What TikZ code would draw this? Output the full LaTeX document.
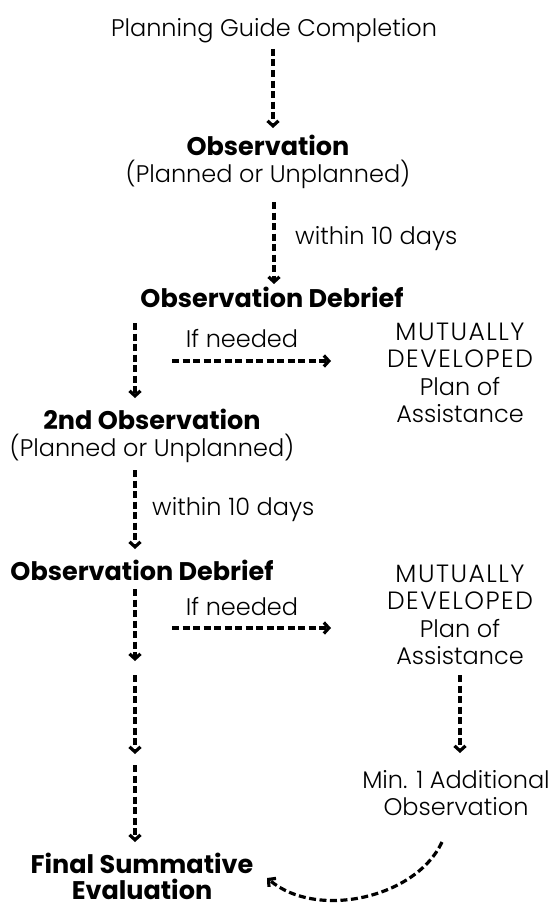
\documentclass[tikz,border=0pt]{standalone}
\usepackage{fontspec}
\setmainfont{Poppins}[UprightFont={* Light},BoldFont={* Bold}]
\usetikzlibrary{arrows.meta,calc}
\newcommand{\bd}[1]{{\fontsize{25.5}{27.5}\selectfont\bfseries #1}}
\newcommand{\cp}[1]{{\fontsize{25}{27.5}\selectfont\addfontfeatures{LetterSpace=6}#1}}
\begin{document}
\begin{tikzpicture}[x=1pt,y=-1pt,
  txt/.style={font=\fontsize{24}{27.5}\selectfont, inner sep=0pt, align=center},
  arr/.style={line width=3.2pt, dash pattern=on 7pt off 3.5pt,
    -{Straight Barb[length=5pt,width=11pt,line width=3.2pt]}}]
\useasboundingbox[fill=white] (0,0) rectangle (559,907);
\node[txt] (pgc) at (274,31) {Planning Guide Completion};
\node[txt] (obs1) at (268,162) {\bd{Observation}\\(Planned or Unplanned)};
\node[txt,anchor=west] (w1) at (295,239) {within 10 days};
\node[txt] (deb1) at (272,297) {\bd{Observation Debrief}};
\node[txt] (if1) at (242,339) {If needed};
\node[txt] (mda1) at (460,373) {\cp{MUTUALLY}\\\cp{DEVELOPED}\\Plan of\\Assistance};
\node[txt] (obs2) at (152,436) {\bd{2nd Observation}\\(Planned or Unplanned)};
\node[txt,anchor=west] (w2) at (152,510) {within 10 days};
\node[txt] (deb2) at (142,570) {\bd{Observation Debrief}};
\node[txt] (if2) at (242,607) {If needed};
\node[txt] (mda2) at (460,615) {\cp{MUTUALLY}\\\cp{DEVELOPED}\\Plan of\\Assistance};
\node[txt] (min) at (456,793) {Min. 1 Additional\\Observation};
\node[txt,font=\fontsize{25.5}{26}\selectfont] (fse) at (142,876) {\bd{Final Summative}\\\bd{Evaluation}};
% centre column
\draw[arr] ($(pgc)+(-1,18)$) -- ($(obs1 -| pgc)+(-1,-34)$);
\draw[arr] ($(obs1 -| pgc)+(0,40)$) -- ($(deb1 -| pgc)+(0,-13)$);
% left column
\draw[arr] ($(deb1 -| fse)+(-7,26)$) -- ($(obs2 -| fse)+(-7,-38)$);
\draw[arr] ($(obs2 -| fse)+(-7,34)$) -- ($(deb2 -| fse)+(-7,-21)$);
\draw[arr] ($(deb2 -| fse)+(-7,19)$) -- ($(deb2 -| fse)+(-7,91)$);
\draw[arr] ($(deb2 -| fse)+(-7,105)$) -- ($(deb2 -| fse)+(-7,184)$);
\draw[arr] ($(fse)+(-7,-111)$) -- ($(fse)+(-7,-34)$);
% horizontal arrows
\draw[arr] ($(if1)+(-70,22)$) -- ($(if1)+(89,22)$);
\draw[arr] ($(if2)+(-70,21)$) -- ($(if2)+(89,21)$);
% right column
\draw[arr] ($(mda2)+(0,60)$) -- ($(min -| mda2)+(0,-40)$);
% curved return
\draw[arr] ($(min)+(-14,49)$) .. controls ($(min)+(-40,105)$) and ($(fse)+(175,44)$) .. ($(fse)+(125,2)$);
\end{tikzpicture}
\end{document}
